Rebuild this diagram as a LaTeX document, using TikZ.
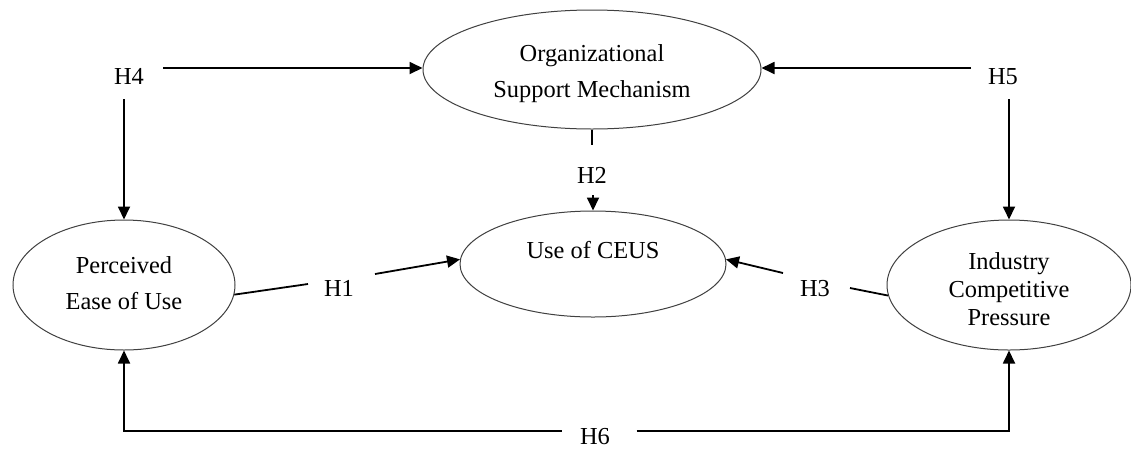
\documentclass[tikz,border=0pt]{standalone}
\usepackage{fontspec}
\setmainfont{Liberation Serif}
\usetikzlibrary{shapes.geometric,arrows.meta}
\begin{document}
\begin{tikzpicture}[x=1pt,y=-1pt,
  lat/.style={ellipse,draw=black!75,line width=1pt,inner sep=0pt,align=center,
    font=\fontsize{24.4}{36}\selectfont},
  hyp/.style={inner sep=0pt,anchor=base,font=\fontsize{24.4}{29}\selectfont},
  conn/.style={line width=1.8pt,black},
  arr/.style={conn,-{Triangle[length=13pt,width=12pt]}}]
\fill[white] (0,0) rectangle (1131,448);
\useasboundingbox (0,0) rectangle (1131,448);
% latent constructs
\node[lat,minimum width=338pt,minimum height=119pt] (osm) at (592,69.5) {\rule{0pt}{25.7pt}Organizational\\Support Mechanism};
\node[lat,minimum width=266pt,minimum height=106pt,text height=17pt,text depth=29pt] (ceus) at (593,264) {Use of CEUS};
\node[lat,minimum width=222pt,minimum height=130pt] (peu) at (124,285) {Perceived\\Ease of Use\rule[-4pt]{0pt}{0pt}};
\node[lat,minimum width=244pt,minimum height=130pt,font=\fontsize{24.4}{28}\selectfont] (icp) at (1009,285) {\rule{0pt}{24.7pt}Industry\\Competitive\\Pressure};
% hypothesis labels
\node[hyp] (h4) at (129,84.3) {H4};
\node[hyp] (h5) at (1003,84.3) {H5};
\node[hyp] (h2) at (592,183.3) {H2};
\node[hyp] (h1) at (339,296.7) {H1};
\node[hyp] (h3) at (815,296.7) {H3};
\node[hyp] (h6) at (595,444.5) {H6};
% connector ends beside labels
\coordinate (h4r) at (163,68);
\coordinate (h4b) at (126,99);
\coordinate (h5l) at (971,68);
\coordinate (h5b) at (1011,99);
\coordinate (h2t) at (592,145);
\coordinate (h2b) at (592,195);
\coordinate (h1l) at (308,284);
\coordinate (h1r) at (375,274);
\coordinate (h3r) at (850,288);
\coordinate (h3l) at (783,273);
\coordinate (h6l) at (561.7,431);
\coordinate (h6r) at (636.7,431);
% connectors
\draw[arr] (h4r) -- (h4r -| osm.west);
\draw[arr] (peu.north |- h4b) -- (peu.north);
\draw[arr] (h5l) -- (h5l -| osm.east);
\draw[arr] (icp.north |- h5b) -- (icp.north);
\draw[conn] (osm.south) -- (h2t);
\draw[arr] (ceus.north |- h2b) -- (ceus.north);
\draw[conn] (peu.-5) -- (h1l);
\draw[arr] (h1r) -- (ceus.178);
\draw[conn] (icp.185) -- (h3r);
\draw[arr] (h3l) -- (ceus.2);
\draw[arr] (h6l) -| (peu.south);
\draw[arr] (h6r) -| (icp.south);
\end{tikzpicture}
\end{document}
